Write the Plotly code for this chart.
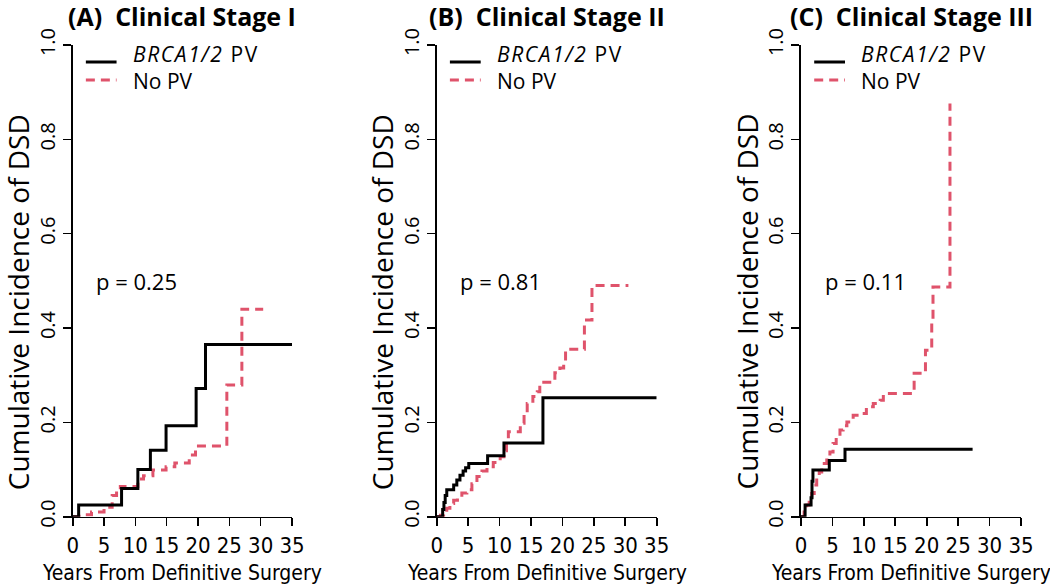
import plotly.graph_objects as go

# ---------------- data ----------------
panel_titles = ["(A)\u00a0\u00a0Clinical Stage I", "(B)\u00a0\u00a0Clinical Stage II", "(C)\u00a0\u00a0Clinical Stage III"]
p_values = ["p = 0.25", "p = 0.81", "p = 0.11"]
group_names = ["<i>BRCA1/2</i> PV", "No PV"]

# Panel A: Clinical Stage I
a_brca_t = [0, 0.95, 7.8, 10.4, 12.4, 14.9, 19.7, 21.2, 35]
a_brca_y = [0, 0.025, 0.060, 0.100, 0.141, 0.193, 0.272, 0.365, 0.365]
a_nopv_t = [0, 1.0, 3.0, 5.0, 6.3, 7.0, 7.6, 10.4, 11.3, 12.8, 14.9, 16.3, 18.6, 19.6, 24.6, 27.0, 30.4]
a_nopv_y = [0, 0.004, 0.010, 0.020, 0.045, 0.057, 0.064, 0.080, 0.087, 0.099, 0.106, 0.114, 0.131, 0.150, 0.279, 0.440, 0.440]

# Panel B: Clinical Stage II
b_brca_t = [0, 0.95, 1.15, 1.35, 1.6, 2.7, 3.2, 3.7, 4.2, 4.6, 5.1, 8.1, 10.7, 16.9, 35]
b_brca_y = [0, 0.015, 0.030, 0.045, 0.057, 0.067, 0.078, 0.088, 0.097, 0.104, 0.113, 0.129, 0.156, 0.252, 0.252]
b_nopv_t = [0, 0.6, 1.1, 1.6, 2.1, 2.7, 3.3, 4.0, 4.8, 5.6, 6.4, 7.2, 8.0, 9.0, 10.1, 10.7, 11.1, 11.4,
            13.3, 13.9, 14.4, 15.3, 16.0, 16.4, 18.8, 19.6, 20.2, 20.5, 23.5, 24.7, 30.5]
b_nopv_y = [0, 0.003, 0.008, 0.018, 0.028, 0.035, 0.042, 0.050, 0.057, 0.070, 0.085, 0.097, 0.106, 0.115, 0.127, 0.140, 0.155, 0.180,
            0.198, 0.220, 0.240, 0.255, 0.265, 0.285, 0.305, 0.315, 0.325, 0.355, 0.417, 0.490, 0.490]

# Panel C: Clinical Stage III
c_brca_t = [0, 0.65, 1.6, 1.75, 1.9, 4.5, 7.0, 27.3]
c_brca_y = [0, 0.025, 0.040, 0.075, 0.099, 0.119, 0.143, 0.143]
c_nopv_t = [0, 0.5, 0.9, 1.3, 1.7, 2.1, 2.5, 2.9, 3.3, 3.7, 4.1, 4.6, 5.1, 5.6, 6.2, 6.7, 7.3, 8.3, 9.4, 10.4,
            11.5, 12.6, 13.1, 18.0, 19.8, 20.8, 21.0, 23.7]
c_nopv_y = [0, 0.010, 0.025, 0.037, 0.049, 0.067, 0.085, 0.095, 0.106, 0.113, 0.120, 0.137, 0.155, 0.170, 0.184, 0.193,
            0.201, 0.215, 0.219, 0.233, 0.240, 0.247, 0.261, 0.304, 0.353, 0.417, 0.487, 0.876]

x_ticks = [0, 5, 10, 15, 20, 25, 30, 35]
y_ticks = [0.0, 0.2, 0.4, 0.6, 0.8, 1.0]
x_title = "Years From Definitive Surgery"
y_title = "Cumulative Incidence of DSD"

# ---------------- styling ----------------
W, H = 1050, 585
BLACK = "#000000"
RED = "#DF536B"
MAIN_FONT = "Open Sans, Noto Sans, sans-serif"
NARROW_FONT = "Liberation Sans Narrow, DejaVu Sans Condensed, sans-serif"

x_domains_px = [(72.7, 292.0), (436.7, 656.7), (801.0, 1021.0)]
y_domain_px = (516.7, 45.0)  # bottom, top (pixels from top)
y_dom = [(H - y_domain_px[0]) / H, (H - y_domain_px[1]) / H]

panels = [
    (a_brca_t, a_brca_y, a_nopv_t, a_nopv_y),
    (b_brca_t, b_brca_y, b_nopv_t, b_nopv_y),
    (c_brca_t, c_brca_y, c_nopv_t, c_nopv_y),
]

# legend placement (axis units): sample line y, text y
legend_rows = [(BLACK, "solid", 0.964, 0.980), ("" + RED, "9px,6px", 0.926, 0.923)]

fig = go.Figure()
layout = dict(
    width=W, height=H, autosize=False,
    margin=dict(l=0, r=0, t=0, b=0, pad=0, autoexpand=False),
    paper_bgcolor="white", plot_bgcolor="white",
    showlegend=False,
)
annotations = []
shapes = []

for i, (bt, by, nt, ny) in enumerate(panels):
    sx = "" if i == 0 else str(i + 1)
    xa, ya = "x" + sx, "y" + sx
    fig.add_trace(go.Scatter(x=nt, y=ny, mode="lines", line=dict(color=RED, width=3, dash="9px,6px", shape="hv"),
                             xaxis=xa, yaxis=ya, name="No PV", hoverinfo="skip", cliponaxis=False))
    fig.add_trace(go.Scatter(x=bt, y=by, mode="lines", line=dict(color=BLACK, width=3, shape="hv"),
                             xaxis=xa, yaxis=ya, name="BRCA1/2 PV", hoverinfo="skip", cliponaxis=False))
    x0, x1 = x_domains_px[i]
    layout["xaxis" + sx] = dict(
        domain=[x0 / W, x1 / W], range=[0, 35], anchor=ya, automargin=False,
        showline=True, linecolor="black", linewidth=1.6, mirror=False,
        ticks="outside", ticklen=8, tickwidth=1.6, tickcolor="black",
        tickvals=x_ticks, ticktext=[str(v) for v in x_ticks],
        tickfont=dict(family=NARROW_FONT, size=22, color="black"),
        showgrid=False, zeroline=False, fixedrange=True,
    )
    layout["yaxis" + sx] = dict(
        domain=y_dom, range=[0, 1], anchor=xa, automargin=False,
        showline=True, linecolor="black", linewidth=1.6,
        ticks="outside", ticklen=8, tickwidth=1.6, tickcolor="black",
        tickvals=y_ticks, ticktext=[f"{v:.1f}" for v in y_ticks], tickangle=-90,
        tickfont=dict(family=MAIN_FONT, size=20, color="black"),
        showgrid=False, zeroline=False, fixedrange=True,
    )
    cx = (x0 + x1) / 2 / W
    # panel title
    annotations.append(dict(text="<b>" + panel_titles[i] + "</b>", xref="paper", yref="paper",
                            x=cx, y=1 - 16 / H, xanchor="center", yanchor="middle", showarrow=False,
                            font=dict(family=MAIN_FONT, size=25, color="black")))
    # y-axis title
    annotations.append(dict(text=y_title, xref="paper", yref="paper", textangle=-90,
                            x=(x0 - 54.5) / W, y=1 - 302 / H, xanchor="center", yanchor="middle", showarrow=False,
                            font=dict(family=MAIN_FONT, size=28, color="black")))
    # x-axis title
    annotations.append(dict(text=x_title, xref="paper", yref="paper",
                            x=cx, y=1 - 573 / H, xanchor="center", yanchor="middle", showarrow=False,
                            font=dict(family=NARROW_FONT, size=21, color="black")))
    # p-value
    annotations.append(dict(text=p_values[i], xref=xa, yref=ya, x=10.2, y=0.5,
                            xanchor="center", yanchor="middle", showarrow=False,
                            font=dict(family=MAIN_FONT, size=22, color="black")))
    # legend
    for j, (col, dash, line_y, text_y) in enumerate(legend_rows):
        shapes.append(dict(type="line", xref=xa, yref=ya, x0=2.1, x1=7.0, y0=line_y, y1=line_y,
                           line=dict(color=col, width=3, dash=dash)))
        label = group_names[j]
        if j == 0:
            label = '<span style="letter-spacing:1.6px">' + label + '</span>'
        annotations.append(dict(text=label, xref=xa, yref=ya, x=9.3, y=text_y,
                                xanchor="left", yanchor="middle", showarrow=False,
                                font=dict(family=MAIN_FONT, size=21, color="black")))

layout["annotations"] = annotations
layout["shapes"] = shapes
fig.update_layout(**layout)
fig.write_html(
    "out.html",
    config={"displayModeBar": False, "staticPlot": True},
    post_script="document.body.style.margin='0px';document.body.style.overflow='hidden';",
)
